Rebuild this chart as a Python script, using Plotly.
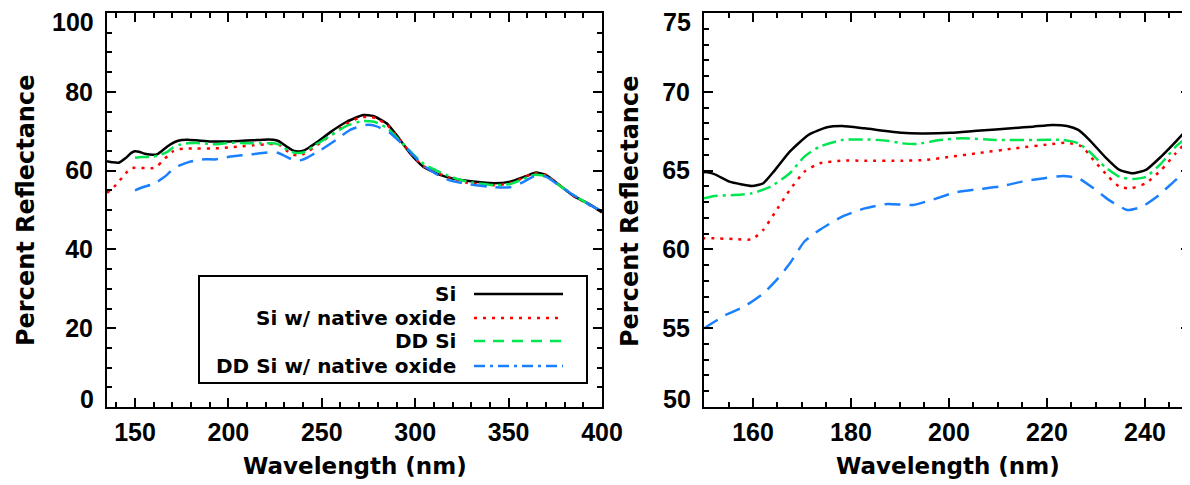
import plotly.graph_objects as go

# ---------------- data ----------------
wl_si = [135, 138, 141.3, 145, 148, 150, 152.1, 155.2, 159.8, 162.1, 164.4, 167.5, 171.3, 175.1,
         178.2, 182.8, 190.4, 194.3, 200.4, 205.7, 213.4, 217.2, 221.1, 224.1, 226.4, 228.7,
         231.8, 234.8, 237.5, 240.2, 243.3, 246.3, 249.2, 254.4, 263.3, 272.2, 277.5, 284.7,
         290, 297.2, 304.3, 313.3, 320, 327.6, 342.4, 350.8, 359.3, 364.6, 369.9, 378.3,
         384.7, 393.2, 400]
r_si = [62.4, 62.1, 62.0, 63.2, 64.5, 64.9, 64.78, 64.3, 64.02, 64.2, 65.0, 66.2, 67.26, 67.75,
        67.83, 67.68, 67.4, 67.36, 67.4, 67.53, 67.7, 67.79, 67.9, 67.83, 67.58, 66.94,
        65.89, 65.04, 64.83, 65.04, 65.89, 66.84, 67.83, 69.7, 72.4, 74.1, 73.86, 72.0,
        69.0, 64.4, 61.0, 58.9, 58.0, 57.4, 56.8, 57.2, 58.6, 59.5, 58.9, 55.9,
        53.6, 51.5, 49.4]

wl_ox = [135, 138, 141.3, 145, 147.7, 150, 152.1, 156, 159.8, 162.1, 164.4, 167.5, 170.5, 173.6,
         178.2, 182.8, 190.4, 195, 200.4, 205.7, 213.4, 221.1, 224.1, 227.2, 229.5, 232.6,
         234.8, 237.1, 240.2, 243.3, 246.3, 249.2, 256, 263, 270, 274, 279, 285, 290, 298,
         304, 310.7, 318, 327.6, 342.4, 350.8, 357, 363.5, 369.9, 377, 384.7, 392, 400]
r_ox = [54.4, 55.5, 57.2, 59.3, 60.6, 60.7, 60.7, 60.66, 60.64, 61.24, 62.3, 63.77, 64.93, 65.46,
        65.63, 65.63, 65.63, 65.67, 65.88, 66.1, 66.41, 66.69, 66.77, 66.52, 65.67, 64.6,
        63.98, 63.87, 64.2, 65.03, 66.1, 67.05, 69.3, 71.8, 73.4, 73.7, 73.3, 71.6, 68.8, 64.2,
        61.2, 59.7, 58.2, 56.9, 56.3, 56.8, 58.0, 59.3, 58.9, 56.4, 53.6, 51.6, 49.5]

wl_dd = [150, 152.1, 156, 159.8, 163.6, 167.5, 170.5, 173.6, 178.2, 182.8, 187.4, 190.4, 193.5,
         198.1, 202.7, 209.6, 217.2, 223.3, 226.4, 228.7, 231.8, 234.8, 237.5, 240.2, 243.3,
         246.3, 249.2, 255, 263, 272, 278, 285, 290, 298, 305, 310.7, 318, 327.6, 342.4,
         350.8, 357, 363.5, 369.9, 377, 384.7, 392, 400]
r_dd = [63.24, 63.39, 63.45, 63.56, 63.98, 64.83, 65.89, 66.52, 66.94, 66.98, 66.9, 66.73, 66.69,
        66.94, 67.05, 66.94, 66.94, 66.94, 66.73, 66.2, 65.24, 64.6, 64.46, 64.6, 65.45,
        66.52, 67.26, 69.0, 71.3, 72.6, 72.4, 70.8, 68.5, 64.6, 61.5, 60.2, 58.6, 57.2, 56.3,
        56.6, 57.7, 58.9, 58.6, 56.3, 53.8, 51.7, 49.7]

wl_ddox = [150, 154.4, 158.2, 162.1, 165.1, 167.5, 170.5, 173.6, 178.2, 182.8, 187.4, 192.7,
           196.5, 201.1, 205.7, 210.3, 214.9, 219.5, 223.3, 226.4, 229.5, 232.6, 236.4, 239.4,
           242.5, 246.3, 249.2, 257.7, 265, 273.6, 279, 286.4, 292, 298, 304, 310.7, 318,
           327.6, 342.4, 350.8, 357, 363.5, 369.9, 377, 384.7, 392, 400]
r_ddox = [54.99, 55.84, 56.37, 57.2, 58.16, 59.1, 60.5, 61.24, 62.08, 62.6, 62.88, 62.82,
          63.14, 63.6, 63.81, 63.98, 64.3, 64.52, 64.66, 64.52, 63.88, 63.14, 62.5, 62.71,
          63.35, 64.41, 65.15, 67.8, 70.3, 71.6, 71.3, 69.6, 67.2, 64.4, 61.4, 59.3, 57.6,
          56.6, 55.8, 55.8, 56.9, 58.5, 58.5, 56.2, 53.8, 51.7, 49.7]

names = ["Si", "Si w/ native oxide", "DD Si", "DD Si w/ native oxide"]
colors = ["#000000", "#ff0000", "#00e650", "#1a80ff"]
plot_dash = ["solid", "3px,6px", "14px,5px,3px,5px", "16px,9px"]
legend_dash = ["solid", "3px,6px", "11px,8px", "11px,5px,3px,5px"]

left_x_ticks = [150, 200, 250, 300, 350, 400]
left_y_ticks = [0, 20, 40, 60, 80, 100]
right_x_ticks = [160, 180, 200, 220, 240]
right_y_ticks = [50, 55, 60, 65, 70, 75]
x_title = "Wavelength (nm)"
y_title = "Percent Reflectance"

# ---------------- geometry helpers (page px -> paper) ----------------
OFF = 8                     # default page body margin of the html page
W, H = 1190 - OFF, 485 - OFF


def px(x):
    return (x - OFF) / W


def py(y):
    return 1 - (y - OFF) / H


# ---------------- figure ----------------
fig = go.Figure()
data = [(wl_si, r_si), (wl_ox, r_ox), (wl_dd, r_dd), (wl_ddox, r_ddox)]
for (x, y), nm, c, d in zip(data, names, colors, plot_dash):
    for xa, ya in (("x", "y"), ("x2", "y2")):
        fig.add_trace(go.Scatter(x=x, y=y, name=nm, mode="lines",
                                 line=dict(color=c, dash=d, width=2.5, shape="spline", smoothing=0.5),
                                 xaxis=xa, yaxis=ya, showlegend=False))

tfont = dict(family="Liberation Sans", size=25, color="black", weight="bold")
xtitfont = dict(family="DejaVu Sans", size=23, color="black", weight="bold")
ytitfont = dict(family="DejaVu Sans", size=24, color="black", weight="bold")


def minor(dt):
    return dict(ticks="inside", ticklen=5, tickwidth=2, tickcolor="black", dtick=dt, tick0=0)


def ax(**kw):
    base = dict(showline=True, linecolor="black", linewidth=2, mirror="allticks",
                ticks="inside", ticklen=9, tickwidth=2, tickcolor="black",
                showgrid=False, zeroline=False, tickfont=tfont, automargin=False,
                ticklabeloverflow="allow")
    base.update(kw)
    return base


def inner_text(vals):
    # the end labels are drawn separately (shifted inside the frame, as in the original)
    return [""] + [str(v) for v in vals[1:-1]] + [""]


ytop, ybot = py(13), py(407)

fig.update_layout(
    width=W, height=H,
    margin=dict(l=0, r=0, t=0, b=0),
    paper_bgcolor="white", plot_bgcolor="white",
    xaxis=ax(domain=[px(107), px(602)], range=[135, 400], tickvals=left_x_ticks,
             minor=minor(10), ticklabelstandoff=2, anchor="y"),
    yaxis=ax(domain=[ybot, ytop], range=[0, 100], tickvals=left_y_ticks,
             ticktext=inner_text(left_y_ticks), minor=minor(5), ticklabelstandoff=7, anchor="x"),
    xaxis2=ax(domain=[px(704), 1.0], range=[150, 249.2], tickvals=right_x_ticks,
              minor=minor(5), ticklabelstandoff=2, anchor="y2"),
    yaxis2=ax(domain=[ybot, ytop], range=[50, 75], tickvals=right_y_ticks,
              ticktext=inner_text(right_y_ticks), minor=minor(1), ticklabelstandoff=7, anchor="x2"),
)

# end tick labels, nudged inside the frame
for xr, vals in ((96, left_y_ticks), (693, right_y_ticks)):
    for v, yy in ((vals[-1], 22), (vals[0], 399)):
        fig.add_annotation(xref="paper", yref="paper", x=px(xr), y=py(yy), text=str(v),
                           showarrow=False, xanchor="right", yanchor="middle", font=tfont)

# axis titles
for cx in ((107 + 602) / 2, (704 + 1192) / 2):
    fig.add_annotation(xref="paper", yref="paper", x=px(cx), y=py(466), text=x_title,
                       showarrow=False, xanchor="center", yanchor="middle", font=xtitfont)
for cx in (26, 630):
    fig.add_annotation(xref="paper", yref="paper", x=px(cx), y=py(211), text=y_title,
                       textangle=-90, showarrow=False, xanchor="center", yanchor="middle",
                       font=ytitfont)

# ---------------- legend box (drawn like the original, text left of line) ----------------
fig.add_shape(type="rect", xref="paper", yref="paper", x0=px(199), x1=px(587), y0=py(383), y1=py(276),
              line=dict(color="black", width=2), fillcolor="white", layer="above")
rows_px = [294, 318, 341, 366]
for nm, c, d, ry in zip(names, colors, legend_dash, rows_px):
    fig.add_annotation(xref="paper", yref="paper", x=px(458), y=py(ry), text=nm, showarrow=False,
                       xanchor="right", yanchor="middle",
                       font=dict(family="DejaVu Sans", size=20, color="black", weight="bold"))
    fig.add_shape(type="line", xref="paper", yref="paper", x0=px(474), x1=px(563), y0=py(ry), y1=py(ry),
                  line=dict(color=c, dash=d, width=2.5), layer="above")

fig.write_html("out.html")
